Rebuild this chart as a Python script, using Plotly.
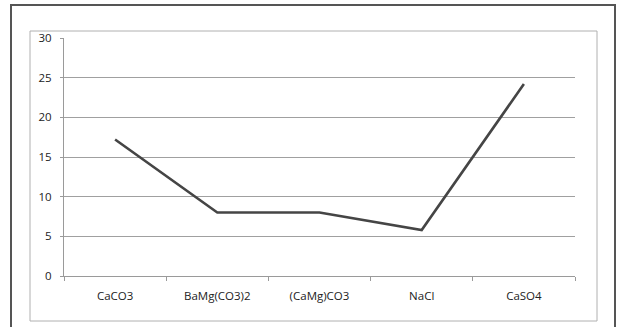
import plotly.graph_objects as go

# Compounds and measured values
categories = ["CaCO3", "BaMg(CO3)2", "(CaMg)CO3", "NaCl", "CaSO4"]
values = [17.2, 8.0, 8.0, 5.8, 24.2]
y_ticks = [0, 5, 10, 15, 20, 25, 30]

W, H = 617, 327
L, R, T, B = 64, 42, 38, 51
pw, ph = W - L - R, H - T - B


def px_x(x):
    return (x - L) / pw


def px_y(y):
    return (H - B - y) / ph


fig = go.Figure()
fig.add_trace(go.Scatter(
    x=categories, y=values, mode="lines",
    line=dict(color="#454545", width=2.6),
    hoverinfo="skip", showlegend=False,
))

axis_font = dict(family="Open Sans, Lato, sans-serif", size=11.5, color="#222222")

fig.update_layout(
    width=W, height=H,
    margin=dict(l=L, r=R, t=T, b=B),
    paper_bgcolor="white", plot_bgcolor="white",
    xaxis=dict(
        type="category", tickson="boundaries", range=[-0.5, 4.5],
        showgrid=False, showline=True, linecolor="#9a9a9a", linewidth=1,
        ticks="outside", ticklen=4, tickcolor="#9a9a9a",
        tickfont=axis_font, ticklabelstandoff=9, fixedrange=True,
    ),
    yaxis=dict(
        range=[0, 30], tickvals=y_ticks, showgrid=True,
        gridcolor="#a0a0a0", gridwidth=1, zeroline=False,
        showline=True, linecolor="#9a9a9a", linewidth=1,
        ticks="outside", ticklen=3, tickcolor="#9a9a9a",
        tickfont=axis_font, ticklabelstandoff=6, fixedrange=True,
    ),
    shapes=[
        # chart area frame
        dict(type="rect", xref="paper", yref="paper",
             x0=px_x(30), x1=px_x(597), y0=px_y(321), y1=px_y(31),
             line=dict(color="#b0b0b0", width=1), layer="below"),
        # outer page frame
        dict(type="rect", xref="paper", yref="paper",
             x0=px_x(11), x1=px_x(615), y0=px_y(340), y1=px_y(5),
             line=dict(color="#555555", width=2), layer="below"),
    ],
)

fig.write_html("out.html")
